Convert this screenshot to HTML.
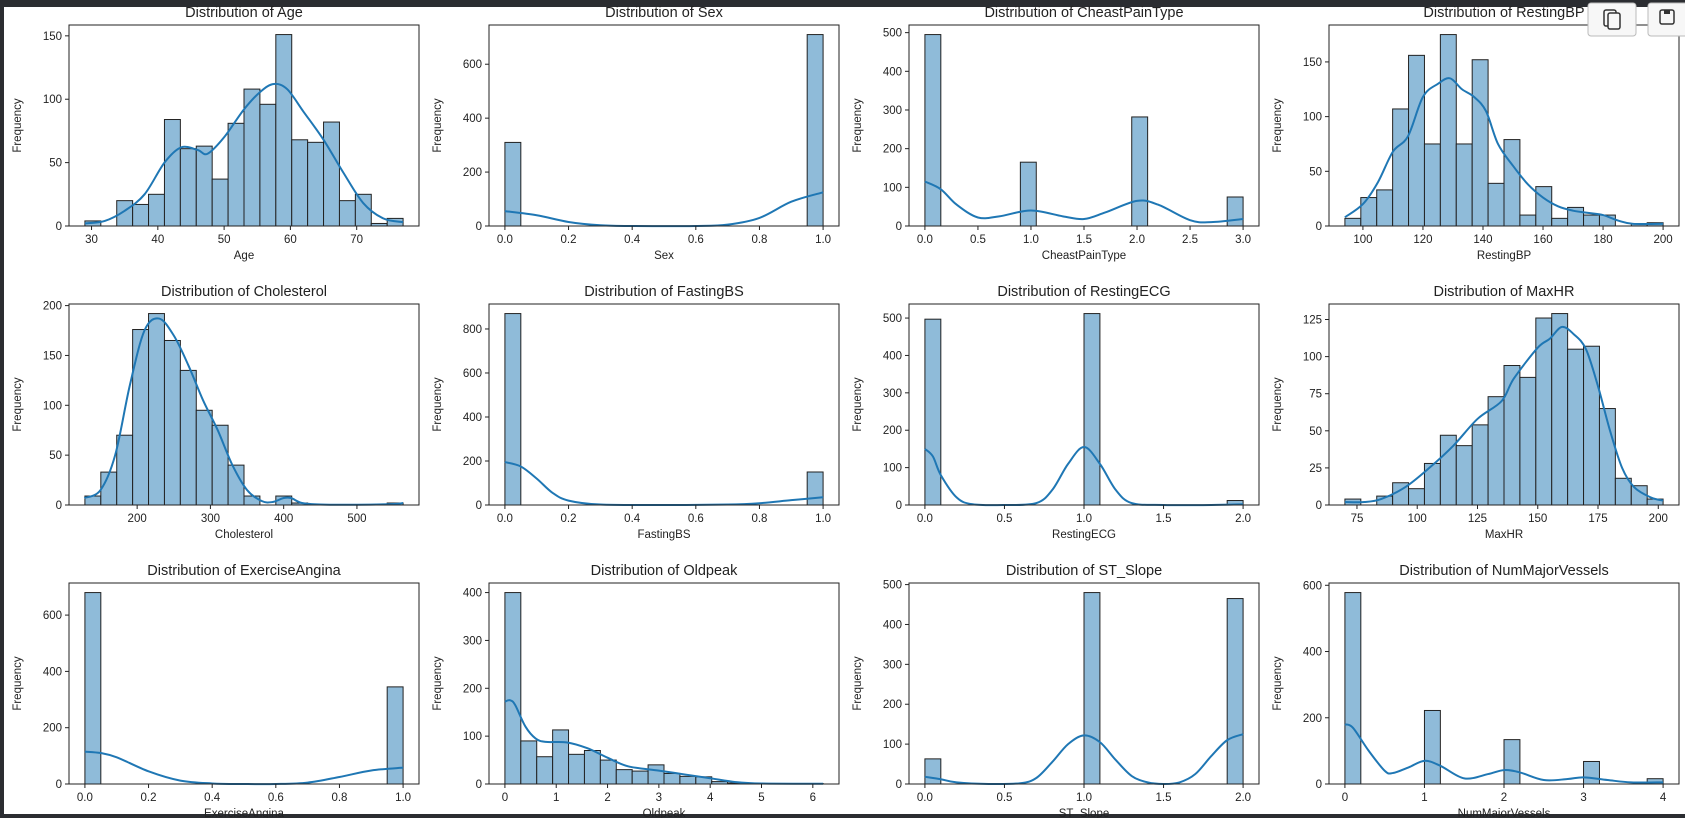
<!DOCTYPE html>
<html><head><meta charset="utf-8"><style>
body{margin:0;background:#fff;}
#wrap{position:relative;width:1685px;height:818px;overflow:hidden;background:#fff;}
svg text{font-family:"Liberation Sans","DejaVu Sans",sans-serif;fill:#222;}
</style></head><body>
<div id="wrap">
<svg id="fig" width="1685" height="818" xmlns="http://www.w3.org/2000/svg"></svg>
</div>
<script>
const titles=["Age","Sex","CheastPainType","RestingBP","Cholesterol","FastingBS","RestingECG","MaxHR","ExerciseAngina","Oldpeak","ST_Slope","NumMajorVessels"];
const binRanges=[[29,77],[0,1],[0,3],[94,200],[128.7,563],[0,1],[0,2],[70,202],[0,1],[0,6.2],[0,2],[0,4]];
const countsAge=[4,0,20,17,25,84,61,63,37,81,108,96,151,68,66,82,20,25,2,6];
const countsSex=[310,0,0,0,0,0,0,0,0,0,0,0,0,0,0,0,0,0,0,710];
const countsCPT=[495,0,0,0,0,0,165,0,0,0,0,0,0,282,0,0,0,0,0,75];
const countsBP=[7,26,33,107,156,75,175,75,152,39,79,10,36,7,17,10,10,0,2,3];
const countsChol=[9,33,70,176,192,165,135,95,80,40,9,0,9,2,0,0,0,0,0,2];
const countsFBS=[870,0,0,0,0,0,0,0,0,0,0,0,0,0,0,0,0,0,0,150];
const countsECG=[497,0,0,0,0,0,0,0,0,0,512,0,0,0,0,0,0,0,0,12];
const countsHR=[4,0,6,15,11,28,47,40,54,73,94,86,126,129,105,107,65,18,13,4];
const countsEA=[680,0,0,0,0,0,0,0,0,0,0,0,0,0,0,0,0,0,0,345];
const countsOld=[400,90,57,113,62,70,50,30,27,40,22,16,15,5,2,1,1,1,1,1];
const countsST=[63,0,0,0,0,0,0,0,0,0,480,0,0,0,0,0,0,0,0,465];
const countsNMV=[578,0,0,0,0,222,0,0,0,0,134,0,0,0,0,68,0,0,0,16];
const kdeAge=[[29,2],[32,4],[35,12],[38,25],[41,50],[43.5,62],[46,60],[47.5,57],[50,70],[53,92],[55.5,106],[57.5,112],[59.5,108],[62,90],[65,68],[68,42],[71,18],[74,6],[77,3]];
const kdeSex=[[0,55],[0.1,40],[0.2,15],[0.3,3],[0.4,0],[0.6,0],[0.7,5],[0.8,30],[0.9,90],[1,125]];
const kdeCPT=[[0,115],[0.15,95],[0.3,55],[0.5,22],[0.7,25],[1,40],[1.3,25],[1.5,18],[1.7,35],[2,65],[2.2,55],[2.5,15],[2.7,10],[3,18]];
const kdeBP=[[94,8],[100,20],[105,40],[110,68],[115,82],[120,118],[125,130],[129,135],[133,125],[137,118],[141,105],[145,75],[150,55],[155,38],[160,26],[165,18],[170,14],[175,12],[180,10],[185,5],[190,2],[200,2]];
const kdeChol=[[128,7],[150,15],[170,50],[190,120],[210,175],[230,187],[250,170],[270,140],[290,105],[310,75],[330,40],[350,15],[370,4],[385,3],[400,7],[410,7],[425,2],[450,0.5],[500,0.3],[550,1],[563,2]];
const kdeFBS=[[0,195],[0.05,175],[0.1,120],[0.15,55],[0.2,20],[0.3,2],[0.5,0],[0.7,2],[0.8,8],[0.9,22],[1,35]];
const kdeECG=[[0,150],[0.05,130],[0.1,80],[0.2,20],[0.3,2],[0.5,0],[0.7,5],[0.8,40],[0.9,110],[1,155],[1.1,110],[1.2,40],[1.3,5],[1.5,0],[1.8,0],[2,2]];
const kdeHR=[[70,2],[78,2],[85,4],[95,12],[105,25],[115,40],[125,58],[135,70],[140,85],[150,106],[155,112],[160,120],[165,115],[170,105],[175,80],[180,50],[185,25],[190,12],[197,5],[202,3]];
const kdeEA=[[0,115],[0.05,110],[0.1,95],[0.2,45],[0.3,12],[0.4,2],[0.5,0],[0.6,0],[0.7,5],[0.8,25],[0.9,48],[1,58]];
const kdeOld=[[0,172],[0.1,175],[0.2,165],[0.4,120],[0.6,95],[0.8,88],[1.2,87],[1.6,75],[2,55],[2.4,37],[3,28],[3.5,20],[4,12],[4.5,4],[5,1],[6.2,0.5]];
const kdeST=[[0,18],[0.1,12],[0.2,4],[0.4,0],[0.6,2],[0.7,15],[0.8,55],[0.9,100],[1,122],[1.1,105],[1.2,60],[1.3,20],[1.4,4],[1.5,0],[1.6,4],[1.7,25],[1.8,70],[1.9,110],[2,125]];
const kdeNMV=[[0,180],[0.1,170],[0.3,100],[0.5,40],[0.6,33],[0.8,50],[1,70],[1.2,55],[1.5,17],[1.8,30],[2,42],[2.2,35],[2.5,12],[2.8,15],[3,20],[3.3,12],[3.6,5],[4,5]];
const xTicksAge=["30","40","50","60","70"];
const xTicks01=["0.0","0.2","0.4","0.6","0.8","1.0"];
const xTicksCPT=["0.0","0.5","1.0","1.5","2.0","2.5","3.0"];
const xTicksBP=["100","120","140","160","180","200"];
const xTicksChol=["200","300","400","500"];
const xTicks02=["0.0","0.5","1.0","1.5","2.0"];
const xTicksHR=["75","100","125","150","175","200"];
const xTicksOld=["0","1","2","3","4","5","6"];
const xTicksNMV=["0","1","2","3","4"];
const yTicks150=["0","50","100","150"];
const yTicks600=["0","200","400","600"];
const yTicks500=["0","100","200","300","400","500"];
const yTicks200=["0","50","100","150","200"];
const yTicks800=["0","200","400","600","800"];
const yTicks125=["0","25","50","75","100","125"];
const yTicks400=["0","100","200","300","400"];
const allCounts=[countsAge,countsSex,countsCPT,countsBP,countsChol,countsFBS,countsECG,countsHR,countsEA,countsOld,countsST,countsNMV];
const allKde=[kdeAge,kdeSex,kdeCPT,kdeBP,kdeChol,kdeFBS,kdeECG,kdeHR,kdeEA,kdeOld,kdeST,kdeNMV];
const allXT=[xTicksAge,xTicks01,xTicksCPT,xTicksBP,xTicksChol,xTicks01,xTicks02,xTicksHR,xTicks01,xTicksOld,xTicks02,xTicksNMV];
const allYT=[yTicks150,yTicks600,yTicks500,yTicks150,yTicks200,yTicks800,yTicks500,yTicks125,yTicks600,yTicks400,yTicks500,yTicks600];

const NS="http://www.w3.org/2000/svg";
const svg=document.getElementById('fig');
function mk(tag,attrs,parent){const e=document.createElementNS(NS,tag);for(const k in attrs)e.setAttribute(k,attrs[k]);parent.appendChild(e);return e;}
function smooth(pts){let d="M"+pts[0][0]+","+pts[0][1];for(let i=0;i<pts.length-1;i++){const p0=pts[i-1]||pts[i],p1=pts[i],p2=pts[i+1],p3=pts[i+2]||p2;
const c1x=p1[0]+(p2[0]-p0[0])/6,c1y=p1[1]+(p2[1]-p0[1])/6,c2x=p2[0]-(p3[0]-p1[0])/6,c2y=p2[1]-(p3[1]-p1[1])/6;
d+=" C"+c1x.toFixed(2)+","+c1y.toFixed(2)+" "+c2x.toFixed(2)+","+c2y.toFixed(2)+" "+p2[0].toFixed(2)+","+p2[1].toFixed(2);}return d;}

// background chrome
let r=mk('rect',{x:0,y:0,width:1685,height:7,fill:'#2b2d31'},svg);


r=mk('rect',{x:0,y:0,width:4,height:818,fill:'#2b2d31'},svg);


r=mk('rect',{x:0,y:814,width:1685,height:4,fill:'#2b2d31'},svg);



const L0=69,T0=25,W=350,H=201,DX=420,DY=279;
for(let i=0;i<12;i++){
  const col=i%4,row=Math.floor(i/4);
  const L=L0+col*DX,T=T0+row*DY,B=T+H,R=L+W;
  const g=mk('g',{},svg);
  
  
  const counts=allCounts[i],kde=allKde[i],br=binRanges[i];
  const rng=br[1]-br[0],xmin=br[0]-0.05*rng,xmax=br[1]+0.05*rng;
  let ym=Math.max(...counts);kde.forEach(p=>{if(p[1]>ym)ym=p[1];});ym*=1.05;
  const xs=v=>L+(v-xmin)/(xmax-xmin)*W, ys=v=>B-v/ym*H;
  const bw=rng/counts.length;
  counts.forEach((c,j)=>{ if(c<=0) return;
    const x0=xs(br[0]+j*bw),x1=xs(br[0]+(j+1)*bw);
    const b=mk('rect',{x:x0,y:ys(c),width:x1-x0,height:B-ys(c),fill:'#8fbbd9',stroke:'#222',"stroke-width":1},g);
    
    
  });
  const kp=mk('path',{d:smooth(kde.map(p=>[xs(p[0]),ys(p[1])])),fill:'none',stroke:'#1f77b4',"stroke-width":2},g);
  
  
  const fr=mk('rect',{x:L,y:T,width:W,height:H,fill:'none',stroke:'#222',"stroke-width":1},g);
  
  
  allXT[i].forEach(t=>{const x=xs(parseFloat(t));
    mk('line',{x1:x,x2:x,y1:B,y2:B+4,stroke:'#222'},g);
    const tx=mk('text',{x:x,y:B+17,"font-size":11.5,"text-anchor":"middle"},g);tx.textContent=t;
    
    });
  allYT[i].forEach(t=>{const y=ys(parseFloat(t));
    mk('line',{x1:L-4,x2:L,y1:y,y2:y,stroke:'#222'},g);
    const tx=mk('text',{x:L-7,y:y+4,"font-size":11.5,"text-anchor":"end"},g);tx.textContent=t;
    
    });
  const tt=mk('text',{x:L+W/2,y:T-8,"font-size":14.5,"text-anchor":"middle"},g);tt.textContent='Distribution of '+titles[i];
  
  
  const xl=mk('text',{x:L+W/2,y:B+33,"font-size":11.5,"text-anchor":"middle"},g);xl.textContent=titles[i];
  
  
  const yl=mk('text',{x:0,y:0,"font-size":11.5,"text-anchor":"middle",transform:`translate(${L-48},${T+H/2}) rotate(-90)`},g);yl.textContent='Frequency';
  
  
}
// toolbar buttons
let b1=mk('rect',{x:1588,y:3,width:48,height:33,rx:3,fill:'#f7f7f7',stroke:'#bbb'},svg);


mk('rect',{x:1604,y:10,width:12,height:16,rx:2,fill:'none',stroke:'#333',"stroke-width":1.5},svg);
mk('rect',{x:1608,y:13,width:12,height:16,rx:2,fill:'#f7f7f7',stroke:'#333',"stroke-width":1.5},svg);
let b2=mk('rect',{x:1648,y:3,width:40,height:33,rx:3,fill:'#f7f7f7',stroke:'#bbb'},svg);


mk('rect',{x:1660,y:10,width:14,height:14,rx:2,fill:'none',stroke:'#333',"stroke-width":1.5},svg);
mk('rect',{x:1664,y:10,width:6,height:4,fill:'#333'},svg);
</script>
</body></html>
